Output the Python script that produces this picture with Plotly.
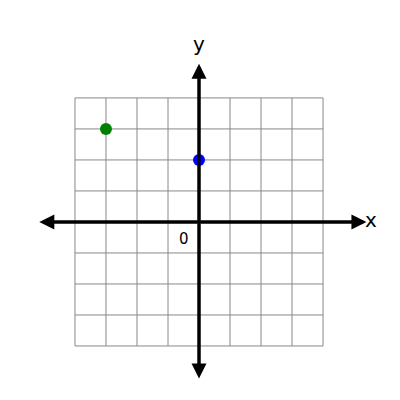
import plotly.graph_objects as go

grid_ticks = [-4, -3, -2, -1, 0, 1, 2, 3, 4]
points_x = [-3, 0]
points_y = [3, 2]
point_colors = ["green", "blue"]

fig = go.Figure()

# grid lines
gx, gy = [], []
for t in grid_ticks:
    gx += [t, t, None, -4, 4, None]
    gy += [-4, 4, None, t, t, None]
fig.add_trace(go.Scatter(x=gx, y=gy, mode="lines",
                         line=dict(color="#888888", width=1), hoverinfo="skip"))

# axis lines
fig.add_trace(go.Scatter(x=[-5.0, 5.3, None, 0, 0], y=[0, 0, None, -4.9, 5.0], mode="lines",
                         line=dict(color="black", width=3), hoverinfo="skip"))

# axes with arrowheads on both ends
for (x0, y0, x1, y1) in [(0, 0, 5.4, 0), (0, 0, -5.15, 0), (0, 0, 0, 5.1), (0, 0, 0, -5.05)]:
    fig.add_annotation(x=x1, y=y1, ax=x0, ay=y0, xref="x", yref="y", axref="x", ayref="y",
                       showarrow=True, arrowhead=2, arrowsize=1, arrowwidth=3,
                       arrowcolor="black", text="")

fig.add_trace(go.Scatter(x=points_x, y=points_y, mode="markers",
                         marker=dict(color=point_colors, size=12)))

fig.add_annotation(x=5.3, y=0.05, text="x", showarrow=False, xanchor="left",
                   font=dict(size=20, color="black"))
fig.add_annotation(x=0, y=5.3, text="y", showarrow=False, yanchor="bottom",
                   font=dict(size=20, color="black"))
fig.add_annotation(x=-0.5, y=-0.55, text="0", showarrow=False,
                   font=dict(size=15, color="black"))

fig.update_xaxes(range=[-6.16, 6.74], visible=False, fixedrange=True)
fig.update_yaxes(range=[-6.0, 6.9], visible=False, fixedrange=True)
fig.update_layout(width=400, height=400, margin=dict(l=0, r=0, t=0, b=0),
                  showlegend=False, plot_bgcolor="white", paper_bgcolor="white",
                  font=dict(family="DejaVu Sans"))

fig.write_html("out.html")
